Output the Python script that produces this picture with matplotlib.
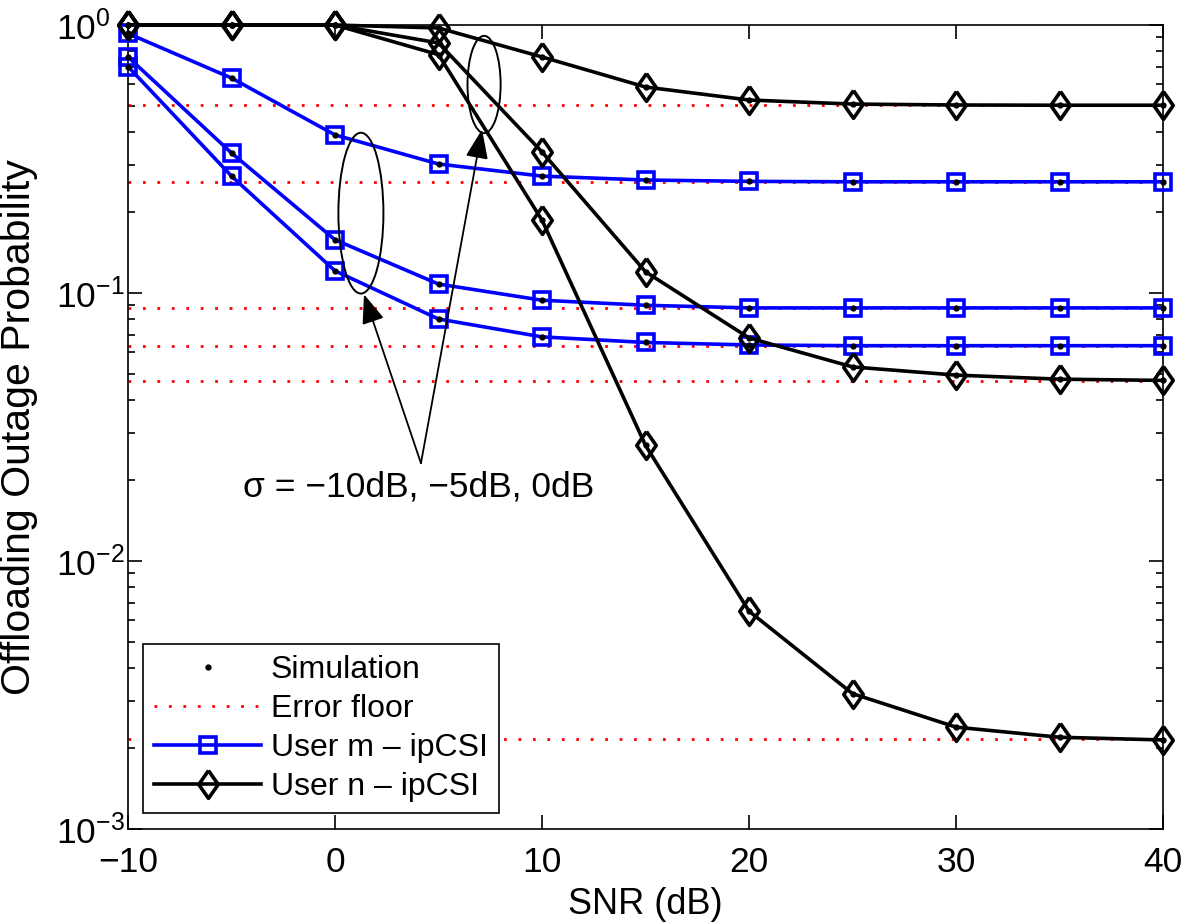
import matplotlib.pyplot as plt
from matplotlib.patches import Ellipse

plt.rcParams['font.family'] = ['Liberation Sans', 'DejaVu Sans']
plt.rcParams['mathtext.fontset'] = 'custom'
plt.rcParams['mathtext.rm'] = 'Liberation Sans'
plt.rcParams['mathtext.it'] = 'Liberation Sans:italic'

snr = [-10, -5, 0, 5, 10, 15, 20, 25, 30, 35, 40]

# user m, sigma = 0dB / -5dB / -10dB (top to bottom)
m_0db = [0.93, 0.634, 0.389, 0.303, 0.273, 0.264, 0.261, 0.26, 0.26, 0.26, 0.26]
m_m5db = [0.76, 0.333, 0.158, 0.108, 0.094, 0.090, 0.088, 0.088, 0.088, 0.088, 0.088]
m_m10db = [0.70, 0.273, 0.121, 0.080, 0.0686, 0.0654, 0.064, 0.0636, 0.0636, 0.0636, 0.0636]

# user n
n_0db = [1.0, 1.0, 1.0, 0.975, 0.76, 0.587, 0.525, 0.507, 0.503, 0.502, 0.502]
n_m5db = [1.0, 1.0, 1.0, 0.857, 0.336, 0.12, 0.068, 0.053, 0.0494, 0.0477, 0.0472]
n_m10db = [1.0, 1.0, 1.0, 0.775, 0.187, 0.027, 0.0065, 0.0032, 0.0024, 0.0022, 0.00215]

floors = [0.502, 0.26, 0.088, 0.0634, 0.047, 0.00216]

fs = 25.5
diamond = [(0, 1), (0.7, 0), (0, -1), (-0.7, 0), (0, 1)]

fig = plt.figure(figsize=(11.81, 9.23), dpi=100)
ax = fig.add_axes([0.1084, 0.1018, 0.8764, 0.8711])
ax.set_yscale('log')

for f in floors:
    fl, = ax.plot([snr[0], snr[-1]], [f, f], color='red', lw=2,
                  dashes=(1, 4.2), zorder=2)

for c in [m_0db, m_m5db, m_m10db]:
    lm, = ax.plot(snr, c, color='blue', lw=2.6, marker='s', ms=12, mew=2.6,
                  mfc='none', mec='blue', clip_on=False, zorder=3)
for c in [n_0db, n_m5db, n_m10db]:
    ln, = ax.plot(snr, c, color='black', lw=2.6, marker=diamond, ms=20,
                  mew=2.6, mfc='none', mec='black', clip_on=False, zorder=3)
for c in [m_0db, m_m5db, m_m10db, n_0db, n_m5db, n_m10db]:
    sim, = ax.plot(snr, c, 'k.', ms=7, ls='none', clip_on=False, zorder=4)

ax.set_xlim(-10, 40)
ax.set_ylim(1e-3, 1)
ax.set_xticks([-10, 0, 10, 20, 30, 40])
ax.set_xticklabels(['\u221210', '0', '10', '20', '30', '40'])
ax.set_yticks([1e-3, 1e-2, 1e-1, 1])
ax.set_yticklabels(['$10^{\u22123}$', '$10^{\u22122}$', '$10^{\u22121}$', '$10^{0}$'])
ax.tick_params(which='both', direction='in', top=True, right=True)
ax.tick_params(which='major', length=10, width=1.2)
ax.tick_params(which='minor', length=5, width=1.2)
ax.tick_params(axis='x', labelsize=fs, pad=12)
ax.tick_params(axis='y', labelsize=fs, pad=52)
plt.setp(ax.get_yticklabels(), ha='left')
for s in ax.spines.values():
    s.set_linewidth(1.2)

ax.set_xlabel('SNR (dB)', fontsize=fs + 0.5, labelpad=6)
ax.set_ylabel('Offloading Outage Probability', fontsize=29.5)
ax.yaxis.set_label_coords(-0.087, 0.5)

# annotation ellipses and arrows
ax.add_patch(Ellipse((0.225, 0.766), 0.0435, 0.200, transform=ax.transAxes,
                     fill=False, ec='black', lw=1.4, zorder=5))
ax.add_patch(Ellipse((0.344, 0.926), 0.032, 0.121, transform=ax.transAxes,
                     fill=False, ec='black', lw=1.4, zorder=5))
arrow = dict(arrowstyle='-|>,head_length=0.9,head_width=0.35', color='black',
             lw=1.3, shrinkA=0, shrinkB=0, mutation_scale=20)
ax.annotate('', xy=(0.228, 0.665), xytext=(0.283, 0.455),
            xycoords='axes fraction', arrowprops=arrow, zorder=6)
ax.annotate('', xy=(0.342, 0.870), xytext=(0.283, 0.455),
            xycoords='axes fraction', arrowprops=arrow, zorder=6)
ax.text(0.111, 0.425, '\u03c3 = \u221210dB, \u22125dB, 0dB', transform=ax.transAxes,
        fontsize=fs, ha='left', va='center')

leg = ax.legend([sim, fl, lm, ln],
                ['Simulation', 'Error floor', 'User m \u2013 ipCSI', 'User n \u2013 ipCSI'],
                loc='lower left', bbox_to_anchor=(0.0145, 0.02), borderaxespad=0,
                fontsize=23, handlelength=3.35, handletextpad=0.3,
                labelspacing=0.28, borderpad=0.35, fancybox=False,
                framealpha=1, edgecolor='black', markerscale=1.0)
leg.get_frame().set_linewidth(1.2)

plt.savefig('out.png', dpi=100)
